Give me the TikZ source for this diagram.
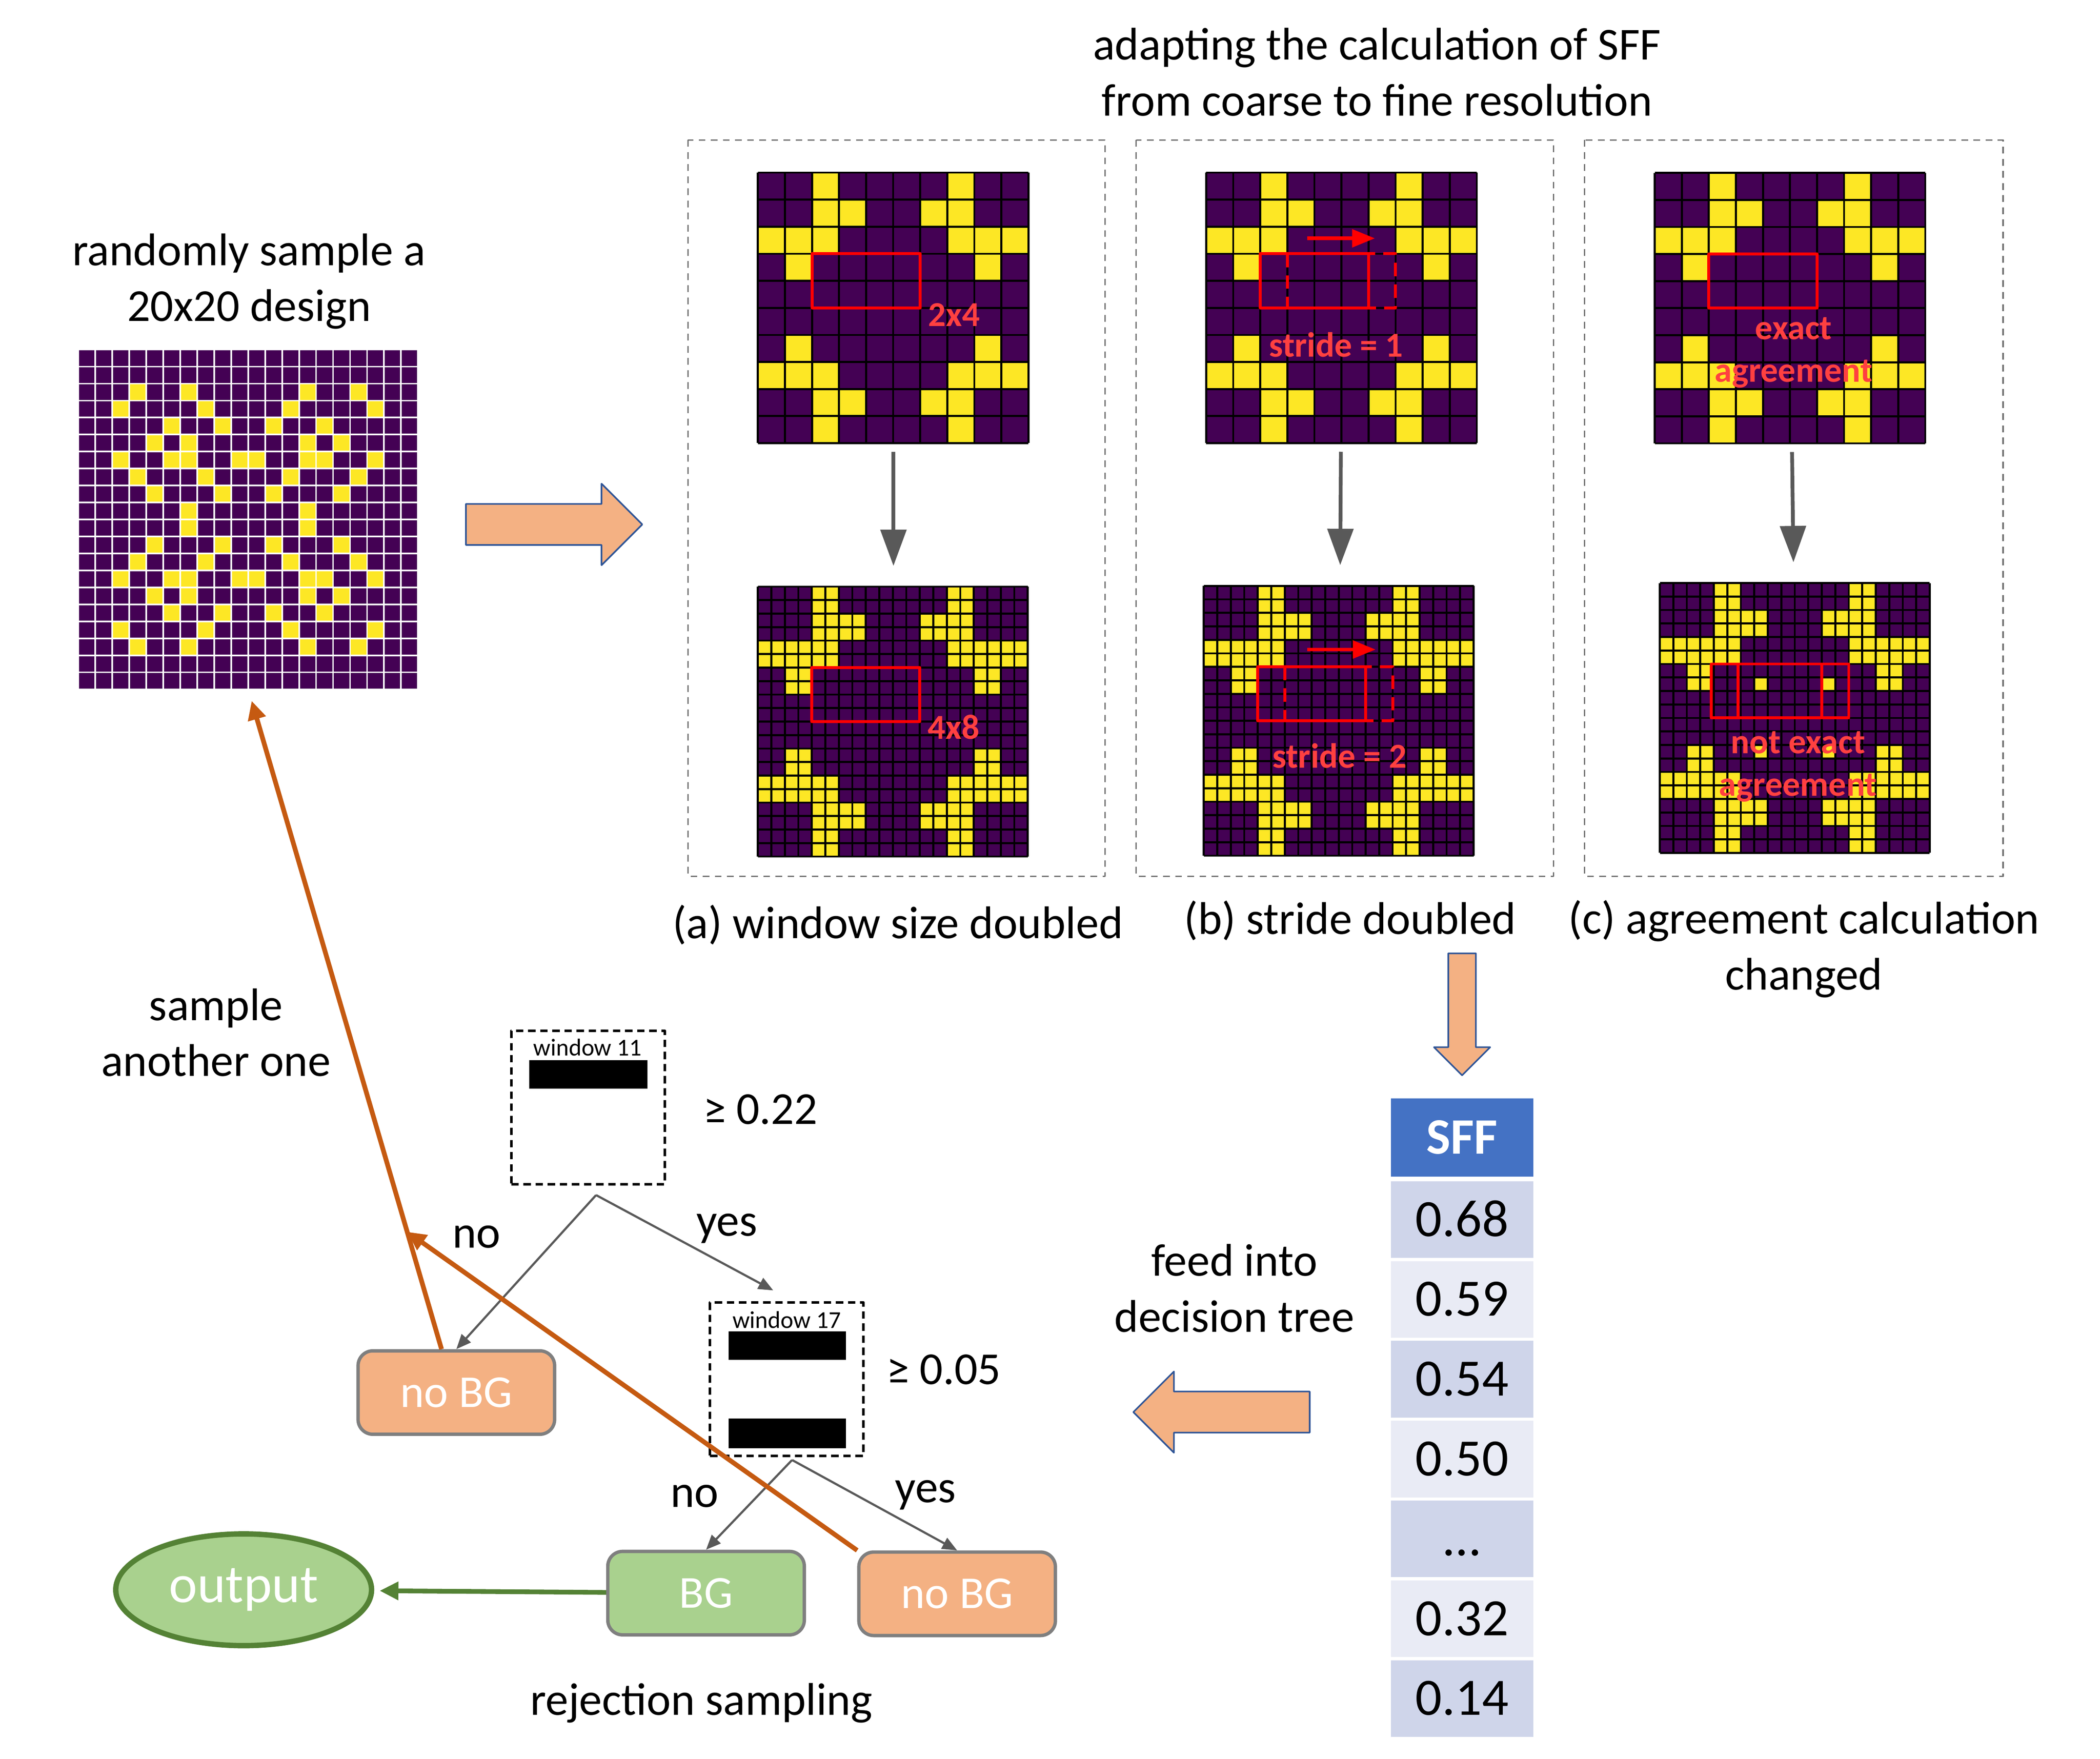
\documentclass[tikz,border=0pt]{standalone}
\usepackage{fontspec}
\setmainfont{Carlito}
\usetikzlibrary{arrows.meta,shapes.arrows,shapes.geometric,calc,positioning}
\definecolor{vpurple}{HTML}{440154}
\definecolor{vyellow}{HTML}{FDE725}
\definecolor{boxorange}{HTML}{F4B183}
\definecolor{boxgreen}{HTML}{A9D18E}
\definecolor{darkgreen}{HTML}{548235}
\definecolor{rust}{HTML}{C55A11}
\definecolor{arrowblue}{HTML}{2F5597}
\definecolor{hdrblue}{HTML}{4472C4}
\definecolor{rowdark}{HTML}{CFD5EA}
\definecolor{rowlight}{HTML}{E9EBF5}
\definecolor{treegray}{HTML}{595959}
\definecolor{leafgray}{HTML}{7F7F7F}
\definecolor{panelgray}{HTML}{6F6F6F}
\definecolor{labelred}{RGB}{255,64,64}
\newcommand{\coarsecells}{2/0,7/0,2/1,3/1,6/1,7/1,0/2,1/2,2/2,7/2,8/2,9/2,1/3,8/3,1/6,8/6,0/7,1/7,2/7,7/7,8/7,9/7,2/8,3/8,6/8,7/8,2/9,7/9}
\newcommand{\sffgrid}[2]{%
	\fill[vpurple](0,0)rectangle(10,10);
	\foreach \cx/\ry in \coarsecells \fill[vyellow](\cx,\ry)rectangle++(1,1);
	#2
	\foreach \i in {0,#1,...,10}{\draw[cellline](\i,0)--(\i,10);\draw[cellline](0,\i)--(10,\i);}}
\begin{document}
\begin{tikzpicture}[x=1pt,y=-1pt,font=\fontsize{34}{41.5}\selectfont,line join=round,
	cellline/.style={black,line width=1.5pt},
	gridnode/.style={minimum size=201pt,inner sep=0pt},
	window/.style={draw=red,line width=2.2pt},
	redlabel/.style={text=labelred,font=\fontsize{26}{31.5}\selectfont\bfseries,align=center},
	panel/.style={draw=panelgray,dash pattern=on 5pt off 4pt,line width=1pt},
	downarrow/.style={draw=treegray,line width=2.8pt,-{Triangle[length=27pt,width=19pt]},shorten <=6pt,shorten >=15.4pt},
	blockarrow/.style={single arrow,draw=arrowblue,fill=boxorange,line width=1.2pt,single arrow tip angle=90,anchor=tail},
	treebox/.style={draw,dash pattern=on 5.5pt off 3.5pt,line width=2pt,minimum width=114pt,minimum height=114pt,inner sep=0pt},
	leaf/.style={draw=leafgray,line width=2.5pt,rounded corners=11pt,minimum width=146pt,minimum height=62pt,text=white},
	branch/.style={draw=treegray,line width=1.6pt,-{Triangle[length=11pt,width=9pt]}},
	back/.style={draw=rust,line width=3.5pt,-{Triangle[length=14pt,width=13pt]}},
	sffcell/.style={minimum width=105.6pt,inner sep=0pt,text height=24.7pt,text depth=0pt,font=\fontsize{39}{47}\selectfont}]
	\useasboundingbox(0,0)rectangle(1560,1306.7);
	\fill[white](0,0)rectangle(1560,1306.7);
	\node[align=center] (pick) at (185,209) {randomly sample a\\20x20 design};
	\node[align=center] (adapt) at (1023,53.5) {adapting the calculation of SFF\\from coarse to fine resolution};
	\node[minimum size=252.3pt,inner sep=0pt] (design) at (184.55,386.1) {};
	\begin{scope}[shift={(design.north west)},x=12.615pt,y=-12.615pt]
		\fill[vpurple](0,0)rectangle(20,20);
		\foreach \ry/\cols in {2/{3,6,13,16},3/{2,7,12,17},4/{5,8,11,14},5/{4,6,13,15},6/{2,5,6,9,10,13,14,17},7/{3,7,12,16},8/{4,8,11,15},9/{6,13},10/{6,13},11/{4,8,11,15},12/{3,7,12,16},13/{2,5,6,9,10,13,14,17},14/{4,6,13,15},15/{5,8,11,14},16/{2,7,12,17},17/{3,6,13,16}}
			\foreach \cx in \cols \fill[vyellow](\cx,\ry)rectangle++(1,1);
		\foreach \i in {0,...,20}{\draw[white,line width=1.2pt](\i,0)--(\i,20);\draw[white,line width=1.2pt](0,\i)--(20,\i);}
	\end{scope}
	\node[blockarrow,inner sep=14.65pt,minimum height=131pt,single arrow head extend=15pt] (toPanels) at (345.5,389.6) {};
	\draw[panel](511,104)rectangle(821,651);
	\draw[panel](844,104)rectangle(1154,651);
	\draw[panel](1177,104)rectangle(1488,651);
	\node[gridnode] (a1) at (663.7,228.9) {};
	\node[gridnode] (a2) at (663.7,536.5) {};
	\node[gridnode] (b1) at (996.7,228.9) {};
	\node[gridnode] (b2) at (994.9,535.9) {};
	\node[gridnode] (c1) at (1329.9,229.1) {};
	\node[gridnode] (c2) at (1333.7,533.8) {};
	\begin{scope}[shift={(a1.north west)},x=20.1pt,y=-20.1pt]
		\sffgrid{1}{}
		\draw[window](2,3)rectangle(6,5);
		\node[redlabel] at (7.25,5.25) {2x4};
	\end{scope}
	\begin{scope}[shift={(a2.north west)},x=20.05pt,y=-20.05pt]
		\sffgrid{0.5}{}
		\draw[window](2,3)rectangle(6,5);
		\node[redlabel] at (7.25,5.2) {4x8};
	\end{scope}
	\begin{scope}[shift={(b1.north west)},x=20.1pt,y=-20.1pt]
		\sffgrid{1}{}
		\draw[window](2,3)rectangle(6,5);
		\draw[window,dash pattern=on 10pt off 6pt](3,3)rectangle(7,5);
		\draw[window,line width=2.7pt,-{Triangle[length=17pt,width=13pt]}](3.73,2.43)--(6.24,2.43);
		\node[redlabel] at (4.8,6.36) {stride = 1};
	\end{scope}
	\begin{scope}[shift={(b2.north west)},x=20.05pt,y=-20.05pt]
		\sffgrid{0.5}{}
		\draw[window](2,3)rectangle(6,5);
		\draw[window,dash pattern=on 10pt off 6pt](3,3)rectangle(7,5);
		\draw[window,line width=2.7pt,-{Triangle[length=17pt,width=13pt]}](3.83,2.36)--(6.37,2.36);
		\node[redlabel] at (5.03,6.3) {stride = 2};
	\end{scope}
	\begin{scope}[shift={(c1.north west)},x=20.1pt,y=-20.1pt]
		\sffgrid{1}{}
		\draw[window](2,3)rectangle(6,5);
		\node[redlabel] at (5.13,6.64) {exact\\agreement};
	\end{scope}
	\begin{scope}[shift={(c2.north west)},x=20.05pt,y=-20.05pt]
		\sffgrid{0.5}{\foreach \cx/\ry in {3.5/3.5,6/3.5,3.5/6,6/6}\fill[vyellow](\cx,\ry)rectangle++(.5,.5);}
		\draw[window](1.9,3)rectangle(7,5);
		\draw[window](2.9,3)--(2.9,5)(6,3)--(6,5);
		\node[redlabel] at (5.12,6.8) {not exact\\agreement};
	\end{scope}
	\foreach \g in {a,b,c}\draw[downarrow](\g1)--(\g2);
	\node (capa) at (667,687) {(a) window size doubled};
	\node (capb) at (1003,684) {(b) stride doubled};
	\node[align=center] (capc) at (1340,705) {(c) agreement calculation\\changed};
	\node[blockarrow,shape border rotate=270,inner sep=9.65pt,minimum height=90.6pt,single arrow head extend=10.6pt] (toTable) at (1086.1,707.6) {};
	\node[sffcell,fill=hdrblue,text=white,minimum height=58pt,font=\fontsize{38}{46}\selectfont\bfseries] (sffhead) at (1086.1,845) {SFF};
	\foreach \v/\col [count=\k from 0] in {0.68/rowdark,0.59/rowlight,0.54/rowdark,0.50/rowlight,\ldots/rowdark,0.32/rowlight,0.14/rowdark}
		\node[sffcell,fill=\col,minimum height=57pt] (sff\k) at (1086.1,906+59.3*\k) {\v};
	\node[align=center] (feed) at (917,957) {feed into\\decision tree};
	\node[blockarrow,shape border rotate=180,inner sep=14.65pt,minimum height=131pt,single arrow head extend=14.9pt] (toTree) at (973.5,1049) {};
	\node[align=center] (again) at (160.5,767) {sample\\another one};
	\node[treebox] (t1) at (436.8,822.8) {};
	\node[font=\fontsize{18}{22}\selectfont] (w11) at (436.4,778.2) {window 11};
	\fill(393.3,787.5)rectangle(481,808.8);
	\node[anchor=base west] (thr1) at (518.8,835) {≥ 0.22};
	\node[treebox] (t2) at (584.4,1024.6) {};
	\node[font=\fontsize{18}{22}\selectfont] (w17) at (584.4,980.6) {window 17};
	\fill(541.2,989)rectangle(628.4,1010.3);
	\fill(541.2,1053.8)rectangle(628.4,1075.9);
	\node[anchor=base west] (thr2) at (655.1,1028.3) {≥ 0.05};
	\node[leaf,fill=boxorange] (nobg1) at (339,1034.5) {no BG};
	\node[leaf,fill=boxgreen] (bg) at (524.5,1183.5) {BG};
	\node[leaf,fill=boxorange] (nobg2) at (711,1184) {no BG};
	\node[ellipse,draw=darkgreen,fill=boxgreen,line width=4pt,minimum width=190pt,minimum height=83pt,text=white,font=\fontsize{40}{48}\selectfont] (out) at (181,1181) {output};
	\coordinate (t1b) at ([shift={(6,7)}]t1.south);
	\coordinate (t2b) at ([shift={(4,2)}]t2.south);
	\draw[branch](t1b)--(nobg1.north);
	\draw[branch](t1b)--([shift={(-10,-8)}]t2.north);
	\draw[branch](t2b)--(bg.north);
	\draw[branch](t2b)--(nobg2.north);
	\node[anchor=base] at (354,927) {no};
	\node[anchor=base] at (540,918.3) {yes};
	\node[anchor=base] at (516,1119.7) {no};
	\node[anchor=base] at (687.6,1116) {yes};
	\draw[draw=darkgreen,line width=3.5pt,-{Triangle[length=14pt,width=13pt]},shorten >=4pt](bg)--(out);
	\node (reject) at (521,1265) {rejection sampling};
	\coordinate (retA) at ([xshift=-11pt]nobg1.north);
	\draw[back,shorten >=8.5pt](retA)--(design.south);
	\draw[back](nobg2.north west)--($(retA)!0.178!(design.south)$);
\end{tikzpicture}
\end{document}
